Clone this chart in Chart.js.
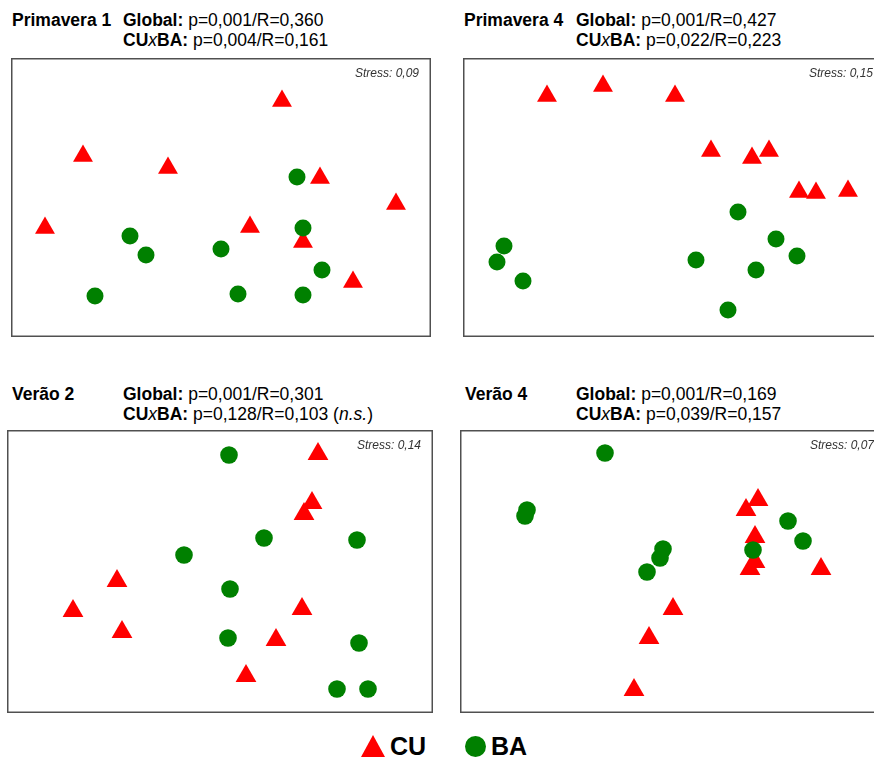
<!DOCTYPE html>
<html>
<head>
<meta charset="utf-8">
<script src="https://cdn.jsdelivr.net/npm/chart.js@4/dist/chart.umd.min.js"></script>
<style>
  html, body { margin: 0; padding: 0; background: #fff; width: 874px; height: 758px; overflow: hidden; position: relative; font-family: "Liberation Sans", Arial, sans-serif; }
  canvas { position: absolute; }
  .t { position: absolute; font-size: 17.5px; line-height: 20px; color: #000; white-space: nowrap; }
  .t b { font-weight: bold; }
  .t i.x { font-weight: normal; font-style: italic; }
  .leg { position: absolute; font-weight: bold; font-size: 25px; line-height: 25px; color: #000; }
</style>
</head>
<body>
<div class="t" style="left:12px;top:10px"><b>Primavera 1</b></div>
<div class="t" style="left:123px;top:10px"><b>Global:</b> p=0,001/R=0,360</div>
<div class="t" style="left:123px;top:30px"><b>CU<i class="x">x</i>BA:</b> p=0,004/R=0,161</div>

<div class="t" style="left:464px;top:10px"><b>Primavera 4</b></div>
<div class="t" style="left:576px;top:10px"><b>Global:</b> p=0,001/R=0,427</div>
<div class="t" style="left:576px;top:30px"><b>CU<i class="x">x</i>BA:</b> p=0,022/R=0,223</div>

<div class="t" style="left:12px;top:384px"><b>Verão 2</b></div>
<div class="t" style="left:123px;top:384px"><b>Global:</b> p=0,001/R=0,301</div>
<div class="t" style="left:123px;top:404px"><b>CU<i class="x">x</i>BA:</b> p=0,128/R=0,103 (<i>n.s.</i>)</div>

<div class="t" style="left:465px;top:384px"><b>Verão 4</b></div>
<div class="t" style="left:576px;top:384px"><b>Global:</b> p=0,001/R=0,169</div>
<div class="t" style="left:576px;top:404px"><b>CU<i class="x">x</i>BA:</b> p=0,039/R=0,157</div>

<canvas id="c1" width="420" height="279" style="left:11px;top:58px"></canvas>
<canvas id="c2" width="422" height="279" style="left:463px;top:58px"></canvas>
<canvas id="c3" width="426" height="283" style="left:7px;top:430px"></canvas>
<canvas id="c4" width="426" height="283" style="left:460px;top:430px"></canvas>

<div style="position:absolute;left:361px;top:735px;width:0;height:0;border-left:12.5px solid transparent;border-right:12.5px solid transparent;border-bottom:22px solid #ff0000;"></div>
<div class="leg" style="left:390px;top:734px">CU</div>
<div style="position:absolute;left:465px;top:736px;width:21px;height:21px;border-radius:50%;background:#008000;"></div>
<div class="leg" style="left:491px;top:734px">BA</div>

<script>
const groups = ["CU", "BA"];

const prim1_CU_x = [271, 72, 157, 309, 385, 34, 239, 292, 342];
const prim1_CU_y = [43, 98, 110, 120, 146, 170, 169, 184, 224];
const prim1_BA_x = [286, 119, 135, 210, 292, 311, 84, 227, 292];
const prim1_BA_y = [119, 178, 197, 191, 170, 212, 238, 236, 237];

const prim4_CU_x = [84, 140, 212, 248, 289, 306, 336, 353, 385];
const prim4_CU_y = [38, 28, 38, 93, 100, 93, 134, 135, 133];
const prim4_BA_x = [275, 41, 34, 60, 313, 233, 334, 293, 265];
const prim4_BA_y = [154, 188, 204, 223, 181, 202, 198, 212, 252];

const ver2_CU_x = [311, 305, 297, 110, 66, 115, 295, 269, 239];
const ver2_CU_y = [24, 73, 84, 151, 181, 202, 179, 210, 246];
const ver2_BA_x = [222, 257, 350, 177, 223, 221, 352, 330, 361];
const ver2_BA_y = [25, 108, 110, 125, 159, 208, 213, 259, 259];

const ver4_CU_x = [298, 286, 295, 295, 290, 361, 213, 189, 174];
const ver4_CU_y = [70, 80, 107, 132, 139, 139, 179, 208, 260];
const ver4_BA_x = [145, 67, 65, 203, 200, 187, 328, 343, 293];
const ver4_BA_y = [23, 80, 86, 119, 128, 142, 91, 111, 120];

const stressLabels = ["Stress: 0,09", "Stress: 0,15", "Stress: 0,14", "Stress: 0,07"];

function pts(xs, ys) { return xs.map((x, i) => ({ x: x, y: ys[i] })); }

const boxPlugin = {
  id: 'boxAndStress',
  afterDraw(chart, args, opts) {
    const { ctx, chartArea: a } = chart;
    ctx.save();
    ctx.strokeStyle = '#505050';
    ctx.lineWidth = 1.5;
    ctx.strokeRect(a.left + 0.75, a.top + 0.75, a.right - a.left - 1.5, a.bottom - a.top - 1.5);
    ctx.fillStyle = '#333';
    ctx.font = 'italic 12px "Liberation Sans", Arial, sans-serif';
    ctx.textAlign = 'right';
    ctx.textBaseline = 'alphabetic';
    ctx.fillText(opts.text, a.right - 12, a.top + 19);
    ctx.restore();
  }
};

function makePanel(id, cuX, cuY, baX, baY, stress, triR, cirR) {
  const cv = document.getElementById(id);
  new Chart(cv, {
    type: 'scatter',
    data: {
      datasets: [
        { label: groups[0], data: pts(cuX, cuY), pointStyle: 'triangle', pointRadius: triR,
          backgroundColor: '#ff0000', borderColor: '#ff0000', borderWidth: 0, order: 1, clip: false },
        { label: groups[1], data: pts(baX, baY), pointStyle: 'circle', pointRadius: cirR,
          backgroundColor: '#008000', borderColor: '#008000', borderWidth: 0, order: 0, clip: false }
      ]
    },
    options: {
      responsive: false,
      animation: false,
      layout: { padding: 0, autoPadding: false },
      plugins: { legend: { display: false }, tooltip: { enabled: false }, boxAndStress: { text: stress } },
      scales: {
        x: { type: 'linear', display: false, min: 0, max: cv.width },
        y: { type: 'linear', display: false, min: 0, max: cv.height, reverse: true }
      }
    },
    plugins: [boxPlugin]
  });
}

makePanel('c1', prim1_CU_x, prim1_CU_y, prim1_BA_x, prim1_BA_y, stressLabels[0], 11.5, 8.5);
makePanel('c2', prim4_CU_x, prim4_CU_y, prim4_BA_x, prim4_BA_y, stressLabels[1], 11.5, 8.5);
makePanel('c3', ver2_CU_x, ver2_CU_y, ver2_BA_x, ver2_BA_y, stressLabels[2], 12, 8.8);
makePanel('c4', ver4_CU_x, ver4_CU_y, ver4_BA_x, ver4_BA_y, stressLabels[3], 12, 8.8);
</script>
</body>
</html>
